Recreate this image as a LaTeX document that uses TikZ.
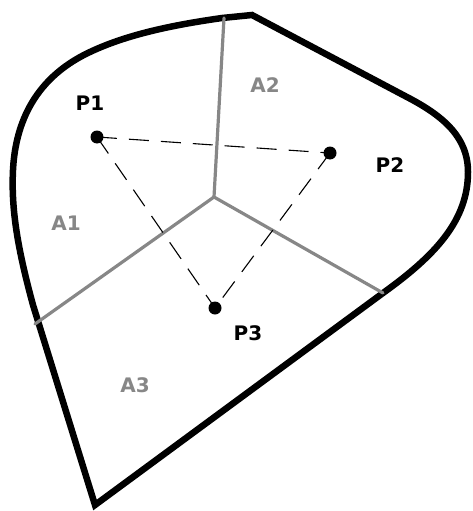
\documentclass[tikz,border=0pt]{standalone}
\usepackage{fontspec}
\setmainfont{DejaVu Sans}
\begin{document}
\begin{tikzpicture}[x=1pt,y=-1pt,
  outer/.style={line width=6.5pt,line join=miter,black},
  cell/.style={line width=3.2pt,draw=black!47,line cap=round},
  link/.style={line width=1.1pt,dash pattern=on 20pt off 12pt},
  site/.style={circle,fill=black,inner sep=0pt,minimum size=13pt},
  plabel/.style={font=\fontsize{20}{20}\selectfont\bfseries,text=black},
  alabel/.style={font=\fontsize{20}{20}\selectfont\bfseries,text=black!47}]
\useasboundingbox (0,0) rectangle (472,511);
% outer boundary
\draw[outer] (252,15) -- (405,96)
  .. controls (440,114) and (468,135) .. (468,172)
  .. controls (468,220) and (436,255) .. (383,293)
  -- (95,505) -- (33,305)
  .. controls (18,250) and (11,210) .. (13,170)
  .. controls (15,130) and (30,80) .. (90,52)
  .. controls (130,33) and (180,24) .. (222,18)
  -- cycle;
% Voronoi edges
\coordinate (top) at (224,18);
\coordinate (c) at (214,197);
\coordinate (l) at (35,324);
\coordinate (r) at (383,293);
\draw[cell] (top) -- (c);
\draw[cell] (c) -- (l);
\draw[cell] (c) -- (r);
% sites
\node[site] (p1) at (97,137) {};
\node[site] (p2) at (330,153) {};
\node[site] (p3) at (215,308) {};
\draw[link] (p1.center) -- (p2.center);
\draw[link] (p1.center) -- (p3.center);
\draw[link] (p2.center) -- (p3.center);
% labels
\node[plabel] (t1) at (90,103) {P1};
\node[plabel] (t2) at (390,165) {P2};
\node[plabel] (t3) at (248,333) {P3};
\node[alabel] (a1) at (66,223) {A1};
\node[alabel] (a2) at (265,85) {A2};
\node[alabel] (a3) at (135,385) {A3};
\end{tikzpicture}
\end{document}
